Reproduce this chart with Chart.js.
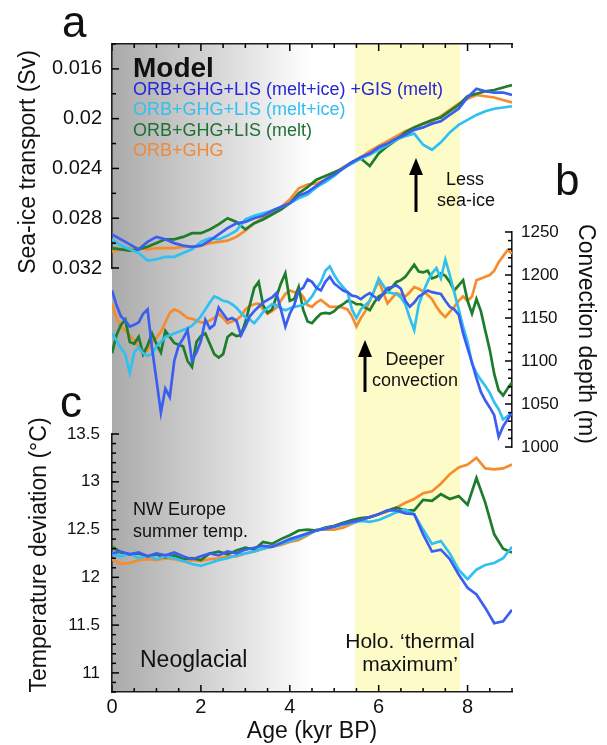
<!DOCTYPE html>
<html>
<head>
<meta charset="utf-8">
<script src="https://cdn.jsdelivr.net/npm/chart.js@4.4.1/dist/chart.umd.min.js"></script>
<style>
  body { margin: 0; background: #fff; }
  #wrap { position: relative; width: 607px; height: 745px; background: #fff; }
  #wrap canvas { position: absolute; left: 0; top: 0; }
</style>
</head>
<body>
<div id="wrap">
  <canvas id="frame" width="607" height="745"></canvas>
  <canvas id="panelA" width="607" height="745"></canvas>
  <canvas id="panelB" width="607" height="745"></canvas>
  <canvas id="panelC" width="607" height="745"></canvas>
</div>
<script>
// ages (kyr BP)
const agesCoarse = [0, 0.2, 0.4, 0.6, 0.8, 1, 1.2, 1.4, 1.6, 1.8, 2, 2.2, 2.4, 2.6, 2.8, 3, 3.2, 3.4, 3.6, 3.8,
    4, 4.2, 4.4, 4.6, 4.8, 5, 5.2, 5.4, 5.6, 5.8, 6, 6.2, 6.4, 6.6, 6.8, 7, 7.2, 7.4, 7.6, 7.8,
    8, 8.2, 8.4, 8.6, 8.8, 9];
const agesFine = [0, 0.1, 0.2, 0.3, 0.4, 0.5, 0.6, 0.7, 0.8, 0.9, 1, 1.1, 1.2, 1.3, 1.4, 1.5, 1.6, 1.7, 1.8, 1.9,
    2, 2.1, 2.2, 2.3, 2.4, 2.5, 2.6, 2.7, 2.8, 2.9, 3, 3.1, 3.2, 3.3, 3.4, 3.5, 3.6, 3.7, 3.8, 3.9,
    4, 4.1, 4.2, 4.3, 4.4, 4.5, 4.6, 4.7, 4.8, 4.9, 5, 5.1, 5.2, 5.3, 5.4, 5.5, 5.6, 5.7, 5.8, 5.9,
    6, 6.1, 6.2, 6.3, 6.4, 6.5, 6.6, 6.7, 6.8, 6.9, 7, 7.1, 7.2, 7.3, 7.4, 7.5, 7.6, 7.7, 7.8, 7.9,
    8, 8.1, 8.2, 8.3, 8.4, 8.5, 8.6, 8.7, 8.8, 8.9, 9];

const seriesNames = ["ORB+GHG+LIS (melt+ice) +GIS (melt)", "ORB+GHG+LIS (melt+ice)", "ORB+GHG+LIS (melt)", "ORB+GHG"];
const lineColors = ["#3a5ff0", "#30c0f2", "#1d7d2c", "#f68c2c"];
const legendColors = ["#2626d6", "#33bff0", "#1f7035", "#f0893a"];

// a: sea-ice transport (Sv)
const iceBlue = [0.0293, 0.0297, 0.0301, 0.0305, 0.0299, 0.0295, 0.0297, 0.0300, 0.0302, 0.0303,
    0.0302, 0.0298, 0.0293, 0.0288, 0.0284, 0.0283, 0.0280, 0.0278, 0.0274, 0.0271,
    0.0268, 0.0262, 0.0259, 0.0254, 0.0249, 0.0245, 0.0240, 0.0235, 0.0231, 0.0228,
    0.0223, 0.0220, 0.0216, 0.0213, 0.0209, 0.0207, 0.0204, 0.0202, 0.0197, 0.0192,
    0.0183, 0.0176, 0.0178, 0.0179, 0.0179, 0.0181];
const iceCyan = [0.0297, 0.0302, 0.0305, 0.0308, 0.0314, 0.0313, 0.0311, 0.0311, 0.0308, 0.0305,
    0.0299, 0.0296, 0.0297, 0.0294, 0.0290, 0.0281, 0.0278, 0.0276, 0.0274, 0.0271,
    0.0268, 0.0264, 0.0261, 0.0255, 0.0251, 0.0246, 0.0240, 0.0236, 0.0232, 0.0229,
    0.0225, 0.0221, 0.0217, 0.0214, 0.0212, 0.0221, 0.0225, 0.0219, 0.0211, 0.0205,
    0.0201, 0.0197, 0.0194, 0.0192, 0.0191, 0.0190];
const iceGreen = [0.0304, 0.0305, 0.0306, 0.0305, 0.0303, 0.0300, 0.0297, 0.0297, 0.0295, 0.0292,
    0.0292, 0.0289, 0.0285, 0.0280, 0.0283, 0.0289, 0.0284, 0.0281, 0.0277, 0.0273,
    0.0268, 0.0260, 0.0255, 0.0249, 0.0246, 0.0243, 0.0240, 0.0235, 0.0232, 0.0238,
    0.0228, 0.0222, 0.0217, 0.0211, 0.0207, 0.0204, 0.0201, 0.0199, 0.0194, 0.0189,
    0.0182, 0.0180, 0.0178, 0.0177, 0.0175, 0.0173];
const iceOrange = [0.0307, 0.0305, 0.0304, 0.0304, 0.0305, 0.0304, 0.0304, 0.0304, 0.0303, 0.0303,
    0.0302, 0.0300, 0.0299, 0.0298, 0.0295, 0.0290, 0.0284, 0.0280, 0.0276, 0.0271,
    0.0265, 0.0256, 0.0253, 0.0252, 0.0249, 0.0244, 0.0239, 0.0235, 0.0231, 0.0226,
    0.0222, 0.0218, 0.0214, 0.0210, 0.0207, 0.0204, 0.0202, 0.0198, 0.0193, 0.0188,
    0.0184, 0.0181, 0.0182, 0.0183, 0.0185, 0.0187];

// b: convection depth (m)
const convBlue = [1182, 1165, 1152, 1147, 1140, 1142, 1145, 1155, 1160, 1115,
    1078, 1040, 1068, 1058, 1100, 1118, 1126, 1136, 1100, 1110,
    1123, 1148, 1138, 1142, 1162, 1155, 1148, 1150, 1147, 1130,
    1140, 1152, 1158, 1163, 1168, 1171, 1174, 1179, 1160, 1140,
    1155, 1165, 1182, 1185, 1195, 1192, 1185, 1182, 1192, 1198,
    1190, 1186, 1182, 1180, 1176, 1175, 1172, 1176, 1179, 1175,
    1171, 1178, 1185, 1186, 1188, 1184, 1170, 1163, 1168, 1175,
    1178, 1182, 1180, 1179, 1178, 1170, 1163, 1160, 1154, 1132,
    1115, 1098, 1080, 1064, 1054, 1046, 1037, 1012, 1024, 1032, 1040];
const convCyan = [1132, 1124, 1115, 1108, 1086, 1110, 1116, 1109, 1106, 1108,
    1117, 1122, 1128, 1130, 1132, 1134, 1136, 1138, 1141, 1146,
    1152, 1160, 1168, 1175, 1173, 1170, 1169, 1166, 1162, 1156,
    1151, 1148, 1144, 1150, 1157, 1162, 1166, 1165, 1161, 1159,
    1161, 1163, 1164, 1165, 1169, 1175, 1184, 1192, 1205, 1210,
    1200, 1192, 1186, 1180, 1160, 1150, 1160, 1165, 1170, 1182,
    1196, 1188, 1180, 1179, 1178, 1174, 1166, 1150, 1136, 1165,
    1180, 1192, 1202, 1208, 1196, 1218, 1200, 1180, 1160, 1140,
    1122, 1097, 1086, 1078, 1071, 1063, 1052, 1044, 1032, 1036, 1040];
const convGreen = [1109, 1130, 1142, 1148, 1122, 1120, 1128, 1108, 1118, 1132,
    1120, 1110, 1135, 1128, 1121, 1119, 1117, 1100, 1093, 1122,
    1129, 1132, 1120, 1108, 1104, 1108, 1128, 1132, 1129, 1130,
    1145, 1165, 1185, 1192, 1165, 1156, 1160, 1175, 1190, 1202,
    1170, 1172, 1186, 1160, 1146, 1144, 1150, 1155, 1156, 1155,
    1158, 1163, 1166, 1170, 1169, 1166, 1166, 1162, 1159, 1168,
    1175, 1178, 1181, 1186, 1192, 1194, 1198, 1205, 1212, 1204,
    1203, 1205, 1196, 1198, 1202, 1199, 1192, 1182, 1188, 1194,
    1170, 1155, 1172, 1158, 1135, 1113, 1085, 1066, 1060, 1068, 1075];
const convOrange = [1167, 1150, 1140, 1135, 1130, 1124, 1116, 1108, 1112, 1122,
    1127, 1134, 1145, 1156, 1160, 1158, 1154, 1150, 1149, 1147,
    1145, 1145, 1147, 1150, 1155, 1150, 1144, 1146, 1148, 1152,
    1160, 1164, 1166, 1167, 1160, 1155, 1158, 1162, 1170, 1178,
    1182, 1180, 1180, 1175, 1165, 1163, 1168, 1171, 1167, 1163,
    1163, 1163, 1162, 1160, 1152, 1140, 1150, 1158, 1170, 1182,
    1193, 1180, 1167, 1173, 1179, 1177, 1175, 1180, 1186, 1184,
    1181, 1177, 1172, 1163, 1156, 1151, 1157, 1163, 1170, 1175,
    1170, 1175, 1194, 1196, 1198, 1200, 1205, 1215, 1222, 1229, 1225];

// c: NW Europe summer temperature (°C)
const tempBlue = [12.25, 12.27, 12.24, 12.26, 12.22, 12.25, 12.23, 12.26, 12.22, 12.19,
    12.22, 12.25, 12.23, 12.27, 12.25, 12.29, 12.31, 12.33, 12.32, 12.36,
    12.40, 12.43, 12.46, 12.49, 12.51, 12.53, 12.56, 12.58, 12.60, 12.63,
    12.66, 12.70, 12.70, 12.67, 12.66, 12.45, 12.27, 12.29, 12.19, 12.03,
    11.89, 11.82, 11.68, 11.52, 11.54, 11.66];
const tempCyan = [12.24, 12.22, 12.25, 12.20, 12.23, 12.19, 12.22, 12.20, 12.17, 12.14,
    12.12, 12.15, 12.18, 12.20, 12.23, 12.25, 12.27, 12.30, 12.32, 12.35,
    12.38, 12.41, 12.45, 12.49, 12.51, 12.53, 12.55, 12.57, 12.59, 12.58,
    12.60, 12.64, 12.68, 12.71, 12.66, 12.50, 12.35, 12.38, 12.25, 12.08,
    11.98, 12.08, 12.13, 12.15, 12.20, 12.32];
const tempGreen = [12.32, 12.26, 12.24, 12.25, 12.22, 12.24, 12.21, 12.23, 12.19, 12.20,
    12.18, 12.25, 12.27, 12.24, 12.28, 12.31, 12.29, 12.37, 12.35, 12.40,
    12.44, 12.49, 12.50, 12.49, 12.52, 12.54, 12.57, 12.60, 12.62, 12.63,
    12.66, 12.70, 12.73, 12.70, 12.70, 12.81, 12.80, 12.87, 12.82, 12.85,
    12.76, 13.04, 12.78, 12.45, 12.30, 12.26];
const tempOrange = [12.19, 12.14, 12.15, 12.18, 12.19, 12.18, 12.20, 12.19, 12.17, 12.18,
    12.17, 12.19, 12.20, 12.22, 12.22, 12.25, 12.27, 12.30, 12.32, 12.34,
    12.37, 12.39, 12.44, 12.50, 12.50, 12.50, 12.52, 12.56, 12.60, 12.63,
    12.66, 12.69, 12.73, 12.78, 12.82, 12.88, 12.90, 12.98, 13.08, 13.15,
    13.18, 13.25, 13.14, 13.13, 13.14, 13.18];

// tick labels
const ageTickLabels = ["0", "2", "4", "6", "8"];
const iceTickLabels = ["0.016", "0.02", "0.024", "0.028", "0.032"];
const convTickLabels = ["1000", "1050", "1100", "1150", "1200", "1250"];
const tempTickLabels = ["11", "11.5", "12", "12.5", "13", "13.5"];

// shaded periods (kyr BP)
const neoglacialFade = [0, 4.5];
const thermalMax = [5.47, 7.83];

const FONT = '"Liberation Sans", Arial, Helvetica, sans-serif';
Chart.defaults.font.family = FONT;
Chart.defaults.color = "#111";
const axisColor = "#1c1c1c";

function makeSets(xs, arrays) {
    return arrays.map((arr, i) => ({
        label: seriesNames[i],
        data: xs.map((x, j) => ({ x: x, y: arr[j] })),
        borderColor: lineColors[i],
        borderWidth: 2.7,
        pointRadius: 0,
        tension: 0,
        fill: false,
    }));
}

function tickAxis(extra) {
    return Object.assign({
        grid: { drawOnChartArea: false, drawTicks: false, tickLength: 0 },
        border: { display: true, color: axisColor, width: 1.6 },
    }, extra);
}

const hiddenX = { type: "linear", display: false, min: 0, max: 9 };
const baseOpts = {
    responsive: false,
    animation: false,
    plugins: { legend: { display: false }, tooltip: { enabled: false } },
};

// tick marks pointing into the plot, longer at labelled values
function drawInwardTicks(chart) {
    const ctx = chart.ctx;
    ctx.save();
    ctx.strokeStyle = "#000";
    ctx.lineWidth = 1.5;
    ["x", "xTop", "y"].forEach((id) => {
        const s = chart.scales[id];
        if (!s || s.options.display === false) return;
        s.ticks.forEach((t, i) => {
            const major = s.axis === "x" ? ageTickLabels.includes(String(t.value)) : t.label !== "";
            const len = major ? 7 : 4;
            const p = s.getPixelForTick(i);
            ctx.beginPath();
            if (s.position === "left") { ctx.moveTo(s.right, p); ctx.lineTo(s.right + len, p); }
            else if (s.position === "right") { ctx.moveTo(s.left, p); ctx.lineTo(s.left - len, p); }
            else if (s.position === "bottom") { ctx.moveTo(p, s.top); ctx.lineTo(p, s.top - len); }
            else { ctx.moveTo(p, s.bottom); ctx.lineTo(p, s.bottom + len); }
            ctx.stroke();
        });
    });
    ctx.restore();
}
const inwardTicks = {
    id: "inwardTicks",
    afterDraw(chart) { drawInwardTicks(chart); },
};

// background: grey Neoglacial fade + yellow Holocene thermal maximum
const backdrop = {
    id: "backdrop",
    beforeDraw(chart) {
        const { ctx, chartArea, scales } = chart;
        const x = scales.x;
        const g0 = x.getPixelForValue(neoglacialFade[0]);
        const g1 = x.getPixelForValue(neoglacialFade[1]);
        const grad = ctx.createLinearGradient(g0, 0, g1, 0);
        grad.addColorStop(0, "#aaaaaa");
        grad.addColorStop(1, "#ffffff");
        ctx.save();
        ctx.fillStyle = grad;
        ctx.fillRect(g0, chartArea.top, g1 - g0, chartArea.bottom - chartArea.top);
        const y0 = x.getPixelForValue(thermalMax[0]);
        const y1 = x.getPixelForValue(thermalMax[1]);
        ctx.fillStyle = "#fdfcc8";
        ctx.fillRect(y0, chartArea.top, y1 - y0, chartArea.bottom - chartArea.top);
        ctx.restore();
    },
};

// text annotations, panel letters and the rotated axis titles
const notes = {
    id: "notes",
    afterDraw(chart) {
        const ctx = chart.ctx;
        ctx.save();
        ctx.fillStyle = "#111";

        ctx.font = "44px " + FONT;
        ctx.textAlign = "left";
        ctx.textBaseline = "alphabetic";
        ctx.fillText("a", 62, 37);
        ctx.fillText("b", 555, 195);
        ctx.fillText("c", 60, 417);

        ctx.font = "bold 28px " + FONT;
        ctx.fillText("Model", 133, 77);
        ctx.font = "18px " + FONT;
        ctx.textBaseline = "middle";
        seriesNames.forEach((n, i) => {
            ctx.fillStyle = legendColors[i];
            ctx.fillText(n, 133, 90 + i * 20.5);
        });

        ctx.fillStyle = "#111";
        ctx.fillText("NW Europe", 133, 510);
        ctx.fillText("summer temp.", 133, 532);
        ctx.font = "23px " + FONT;
        ctx.fillText("Neoglacial", 140, 661);

        ctx.textAlign = "center";
        ctx.font = "18px " + FONT;
        ctx.fillText("Less", 465, 180);
        ctx.fillText("sea-ice", 466, 201);
        ctx.fillText("Deeper", 415, 360);
        ctx.fillText("convection", 415, 381);
        ctx.font = "21px " + FONT;
        ctx.fillText("Holo. \u2018thermal", 410, 642);
        ctx.fillText("maximum\u2019", 410, 665);

        // arrows
        [[416, 212, 158], [365, 392, 340]].forEach(([ax, yb, yt]) => {
            ctx.strokeStyle = "#000";
            ctx.lineWidth = 3;
            ctx.beginPath();
            ctx.moveTo(ax, yb);
            ctx.lineTo(ax, yt + 12);
            ctx.stroke();
            ctx.fillStyle = "#000";
            ctx.beginPath();
            ctx.moveTo(ax, yt);
            ctx.lineTo(ax - 7, yt + 17);
            ctx.lineTo(ax + 7, yt + 17);
            ctx.closePath();
            ctx.fill();
        });

        // axis titles
        ctx.fillStyle = "#111";
        ctx.font = "23px " + FONT;
        ctx.textAlign = "center";
        ctx.textBaseline = "middle";
        [["Sea-ice transport (Sv)", 29, 162, -1], ["Temperature deviation (\u00B0C)", 40, 555, -1],
         ["Convection depth (m)", 585, 334, 1]].forEach(([t, x, y, dir]) => {
            ctx.save();
            ctx.translate(x, y);
            ctx.rotate(dir * Math.PI / 2);
            ctx.fillText(t, 0, 0);
            ctx.restore();
        });
        ctx.restore();
    },
};

// frame: shared age axis (top and bottom) with background shading
new Chart(document.getElementById("frame"), {
    type: "line",
    data: { datasets: [] },
    options: Object.assign({}, baseOpts, {
        layout: { padding: { left: 112, right: 95, top: 0, bottom: 0 } },
        scales: {
            x: tickAxis({
                type: "linear", position: "bottom", min: 0, max: 9,
                afterFit: (s) => { s.height = 53; },
                ticks: {
                    stepSize: 0.5, autoSkip: false, maxRotation: 0, padding: 3,
                    font: { size: 20 }, color: "#111",
                    callback: (v) => (ageTickLabels.includes(String(v)) ? String(v) : ""),
                },
                title: { display: true, text: "Age (kyr BP)", font: { size: 23 }, color: "#111", padding: 0 },
            }),
            xTop: tickAxis({
                type: "linear", position: "top", min: 0, max: 9,
                afterFit: (s) => { s.height = 44; },
                ticks: { display: false, stepSize: 0.5, autoSkip: false },
            }),
            y: { display: false, min: 0, max: 1 },
        },
    }),
    plugins: [backdrop, inwardTicks],
});

// a: sea-ice transport
new Chart(document.getElementById("panelA"), {
    type: "line",
    data: { datasets: makeSets(agesCoarse, [iceBlue, iceCyan, iceGreen, iceOrange]) },
    options: Object.assign({}, baseOpts, {
        layout: { padding: { left: 0, right: 95, top: 44, bottom: 477 } },
        scales: {
            x: hiddenX,
            y: tickAxis({
                position: "left", reverse: true, min: 0.014, max: 0.032,
                afterFit: (s) => { s.width = 112; },
                ticks: {
                    stepSize: 0.002, autoSkip: false, padding: 10, font: { size: 20 }, color: "#111",
                    callback: (v) => {
                        const t = String(+v.toFixed(3));
                        return iceTickLabels.includes(t) ? t : "";
                    },
                },
            }),
        },
    }),
    plugins: [inwardTicks],
});

// b: convection depth
new Chart(document.getElementById("panelB"), {
    type: "line",
    data: { datasets: makeSets(agesFine, [convBlue, convCyan, convGreen, convOrange]) },
    options: Object.assign({}, baseOpts, {
        layout: { padding: { left: 112, right: 0, top: 232, bottom: 298 } },
        scales: {
            x: hiddenX,
            y: tickAxis({
                position: "right", min: 1000, max: 1250,
                afterFit: (s) => { s.width = 95; },
                ticks: {
                    stepSize: 10, autoSkip: false, padding: 9, font: { size: 17 }, color: "#111",
                    callback: (v) => (convTickLabels.includes(String(v)) ? String(v) : ""),
                },
            }),
        },
    }),
    plugins: [inwardTicks],
});

// c: temperature deviation
new Chart(document.getElementById("panelC"), {
    type: "line",
    data: { datasets: makeSets(agesCoarse, [tempBlue, tempCyan, tempGreen, tempOrange]) },
    options: Object.assign({}, baseOpts, {
        layout: { padding: { left: 0, right: 95, top: 434, bottom: 53 } },
        scales: {
            x: hiddenX,
            y: tickAxis({
                position: "left", min: 10.8, max: 13.5,
                afterFit: (s) => { s.width = 112; },
                ticks: {
                    stepSize: 0.1, autoSkip: false, padding: 12, font: { size: 17 }, color: "#111",
                    callback: (v) => {
                        const t = String(+v.toFixed(1));
                        return tempTickLabels.includes(t) ? t : "";
                    },
                },
            }),
        },
    }),
    plugins: [notes, inwardTicks],
});
</script>
</body>
</html>
